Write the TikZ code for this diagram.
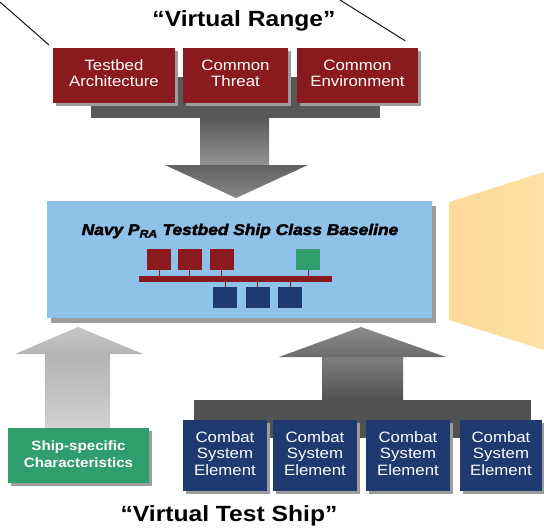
\documentclass[tikz,border=0pt]{standalone}
\usepackage{fontspec}
\setmainfont{Liberation Sans}
\newfontfamily\heavyfont{Liberation Sans}[FakeBold=2.5]
\usetikzlibrary{shadows,calc}
\definecolor{boxred}{HTML}{8B1A1E}
\definecolor{boxnavy}{HTML}{1F3A70}
\definecolor{boxgreen}{HTML}{2F9E6C}
\definecolor{baseblue}{HTML}{8EC2E8}
\definecolor{shadowgray}{HTML}{9C9C9C}
\definecolor{bardark}{HTML}{585858}
\definecolor{orangeL}{HTML}{FFDA98}
\definecolor{orangeR}{HTML}{FFE0A7}
\newcommand{\ml}[1]{\scalebox{1.12}[1]{\begin{tabular}{@{}c@{}}#1\end{tabular}}}
\newcommand{\hs}[1]{\scalebox{1.12}[1]{#1}}
\tikzset{
  shad/.style={drop shadow={shadow xshift=3pt,shadow yshift=-3pt,fill=shadowgray,opacity=1}},
  bigshad/.style={drop shadow={shadow xshift=4pt,shadow yshift=-5pt,fill=shadowgray,opacity=1}},
  boxbase/.style={shad, text=white, inner sep=0pt, align=center},
  redbox/.style={boxbase, fill=boxred, minimum height=55pt, font=\fontsize{15}{16}\selectfont},
  navybox/.style={boxbase, fill=boxnavy, minimum width=84pt, minimum height=71pt, font=\fontsize{15}{16.3}\selectfont},
  greenbox/.style={boxbase, fill=boxgreen, minimum width=141pt, minimum height=55pt, font=\fontsize{13.5}{17}\selectfont\bfseries},
  redsq/.style={fill=boxred, inner sep=0pt, minimum width=24pt, minimum height=21pt},
  navysq/.style={fill=boxnavy, inner sep=0pt, minimum width=24pt, minimum height=21pt},
  greensq/.style={fill=boxgreen, inner sep=0pt, minimum width=24pt, minimum height=21pt},
  link/.style={draw=boxred, line width=0.9pt},
  title/.style={font=\fontsize{22}{24}\selectfont\bfseries, inner sep=0pt},
  leader/.style={draw=black, line width=0.9pt}
}
\begin{document}
\begin{tikzpicture}[x=1pt,y=-1pt]
\useasboundingbox (0,0) rectangle (544,530);
% orange side panel
\path[left color=orangeL, right color=orangeR] (449,202) -- (544,172) -- (544,350) -- (449,320) -- cycle;
% titles
\node[title] (vr) at (244,21) {\hs{“Virtual Range”}};
\node[title] (vts) at (229,516) {\hs{“Virtual Test Ship”}};
% top block arrow
\fill[bardark] (91,77) rectangle (380,118);
\path[top color=bardark, bottom color=black!42] (200,117.5) rectangle (269,166);
\path[top color=black!62, bottom color=black!47] (165,165) -- (308,165) -- (236,198) -- cycle;
% red boxes
\node[redbox, minimum width=122pt] (tb) at (114,75.5) {\ml{Testbed\\Architecture}};
\node[redbox, minimum width=105pt] (ct) at (235.5,75.5) {\ml{Common\\Threat}};
\node[redbox, minimum width=121pt] (ce) at (357.5,75.5) {\ml{Common\\Environment}};
% leader lines
\coordinate (l0) at (0,2);
\coordinate (r0) at (340,0);
\draw[leader] (l0) -- ($(tb.north west)+(-4,-3)$);
\draw[leader] (r0) -- ($(ce.north east)+(-13,-7)$);
% bottom-left block arrow
\path[top color=black!30, bottom color=black!18] (45,353) rectangle (110,429);
\path[top color=black!22, bottom color=black!29] (15,354) -- (143,354) -- (78,327) -- cycle;
% bottom-right block arrow
\fill[black!68] (194,400) rectangle (531,438);
\path[top color=black!50, bottom color=black!68] (322,356) rectangle (403,400.5);
\path[top color=black!45, bottom color=black!58] (279,357) -- (446,357) -- (361,327) -- cycle;
% baseline box
\node[bigshad, fill=baseblue, minimum width=385pt, minimum height=117pt, inner sep=0pt] (base) at (239.5,259.5) {};
\node[font=\fontsize{15.5}{17}\selectfont\heavyfont\bfseries\itshape, inner sep=0pt] (btitle) at (240,231) {\hs{Navy P\textsubscript{RA} Testbed Ship Class Baseline}};
% inner network
\fill[boxred] (139,276) rectangle (332,282);
\coordinate (bus) at (235.5,279);
\node[redsq] (r1) at (159,259.5) {};
\node[redsq] (r2) at (189.5,259.5) {};
\node[redsq] (r3) at (221.5,259.5) {};
\node[greensq] (g1) at (308,259.5) {};
\node[navysq] (n1) at (225,297.5) {};
\node[navysq] (n2) at (257.5,297.5) {};
\node[navysq] (n3) at (290,297.5) {};
\foreach \s in {r1,r2,r3,g1} \draw[link] (\s.south) -- (\s.south |- bus);
\foreach \s in {n1,n2,n3} \draw[link] (\s.north) -- (\s.north |- bus);
% bottom boxes
\node[greenbox] (ss) at (78.5,455.5) {\scalebox{1.12}[1]{\begin{tabular}{@{}c@{}}Ship-specific\\Characteristics\end{tabular}}};
\node[navybox] (c1) at (225,455.5) {\ml{Combat\\System\\Element}};
\node[navybox] (c2) at (315,455.5) {\ml{Combat\\System\\Element}};
\node[navybox] (c3) at (408,455.5) {\ml{Combat\\System\\Element}};
\node[navybox, minimum width=82pt] (c4) at (501,455.5) {\ml{Combat\\System\\Element}};
\end{tikzpicture}
\end{document}
